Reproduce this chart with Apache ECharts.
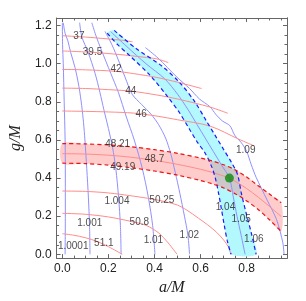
<!DOCTYPE html>
<html><head><meta charset="utf-8">
<script src="https://cdn.jsdelivr.net/npm/echarts@6/dist/echarts.min.js"></script>
<style>html,body{margin:0;padding:0;background:#fff}#c{width:306px;height:301px}</style>
</head><body><div id="c"></div>
<script>
// ---- tick values ----
const xMajor = [0, 0.2, 0.4, 0.6, 0.8];
const xMinor = [0.05,0.1,0.15,0.25,0.3,0.35,0.45,0.5,0.55,0.65,0.7,0.75,0.85,0.9,0.95];
const yMajor = [0, 0.2, 0.4, 0.6, 0.8, 1.0, 1.2];
const yMinor = [0.05,0.1,0.15,0.25,0.3,0.35,0.45,0.5,0.55,0.65,0.7,0.75,0.85,0.9,0.95,1.05,1.1,1.15];

// ---- blue contours [a, g] ----
const b10001 = [[0.0,1.215],[0.001,1.1],[0.004,1.0],[0.008,0.8],[0.012,0.6],[0.013,0.4],[0.013,0.2],[0.012,0.0]];
const b1001 = [[0.004,1.215],[0.012,1.16],[0.024,1.12],[0.036,1.06],[0.055,0.98],[0.072,0.88],[0.084,0.78],[0.092,0.69],[0.098,0.6],[0.106,0.45],[0.113,0.3],[0.118,0.15],[0.12,0.0]];
const b1004 = [[0.075,1.215],[0.085,1.14],[0.112,1.06],[0.142,0.95],[0.163,0.85],[0.18,0.76],[0.2,0.66],[0.218,0.56],[0.232,0.45],[0.244,0.3],[0.252,0.15],[0.255,0.0]];
const b101 = [[0.128,1.215],[0.145,1.15],[0.17,1.07],[0.21,0.95],[0.243,0.85],[0.278,0.72],[0.312,0.6],[0.347,0.45],[0.373,0.3],[0.392,0.15],[0.402,0.0]];
const b102 = [[0.185,1.17],[0.215,1.1],[0.243,1.02],[0.272,0.93],[0.303,0.84],[0.345,0.785],[0.385,0.735],[0.418,0.68],[0.448,0.61],[0.47,0.53],[0.49,0.43],[0.51,0.32],[0.53,0.2],[0.545,0.1],[0.552,0.0]];
const b104 = [[0.195,1.16],[0.24,1.1],[0.29,1.045],[0.38,0.94],[0.455,0.83],[0.51,0.74],[0.55,0.66],[0.585,0.59],[0.62,0.53],[0.648,0.46],[0.664,0.4],[0.678,0.32],[0.69,0.24],[0.703,0.15],[0.716,0.07],[0.732,0.0]];
const b105 = [[0.21,1.168],[0.28,1.09],[0.363,1.0],[0.445,0.92],[0.5,0.84],[0.545,0.76],[0.585,0.68],[0.62,0.61],[0.655,0.54],[0.69,0.47],[0.725,0.40],[0.742,0.3],[0.758,0.2],[0.776,0.1],[0.793,0.0]];
const b106 = [[0.225,1.175],[0.32,1.08],[0.43,0.99],[0.51,0.9],[0.575,0.8],[0.625,0.7],[0.665,0.62],[0.7,0.55],[0.735,0.48],[0.76,0.42],[0.777,0.32],[0.798,0.215],[0.82,0.112],[0.841,0.0]];
const b109 = [[0.36,1.085],[0.415,1.03],[0.497,0.93],[0.552,0.87],[0.595,0.815],[0.64,0.775],[0.667,0.733],[0.694,0.7],[0.727,0.675],[0.748,0.625],[0.777,0.585],[0.8,0.54],[0.82,0.47],[0.841,0.404],[0.889,0.284],[0.93,0.181],[0.957,0.06],[0.962,0.0]];

// ---- red contours [a, g] ----
const r37 = [[0,1.147],[0.1,1.14],[0.2,1.13],[0.26,1.123],[0.305,1.115]];
const r395 = [[0,1.067],[0.13,1.06],[0.25,1.048],[0.35,1.035],[0.411,1.025],[0.46,1.006]];
const r42 = [[0,0.97],[0.1,0.968],[0.233,0.96],[0.31,0.948],[0.41,0.928],[0.5,0.903],[0.604,0.87]];
const r44 = [[0,0.872],[0.1,0.87],[0.2,0.864],[0.3,0.856],[0.41,0.836],[0.5,0.815],[0.643,0.772],[0.718,0.74]];
const r46 = [[0,0.752],[0.1,0.75],[0.2,0.747],[0.309,0.741],[0.411,0.725],[0.5,0.706],[0.64,0.673],[0.766,0.604],[0.834,0.568]];
const r4821 = [[0,0.581],[0.1,0.579],[0.2,0.574],[0.3,0.564],[0.4,0.549],[0.5,0.53],[0.6,0.505],[0.65,0.49],[0.7,0.47],[0.75,0.443],[0.8,0.405],[0.85,0.36],[0.9,0.315],[0.95,0.27]];
const r487 = [[0,0.528],[0.1,0.526],[0.2,0.52],[0.3,0.509],[0.4,0.493],[0.5,0.472],[0.6,0.446],[0.65,0.43],[0.7,0.411],[0.725,0.40],[0.75,0.383],[0.8,0.345],[0.85,0.3],[0.9,0.25],[0.95,0.198]];
const r4919 = [[0,0.478],[0.1,0.476],[0.2,0.468],[0.3,0.454],[0.4,0.437],[0.5,0.415],[0.6,0.387],[0.65,0.37],[0.7,0.348],[0.75,0.318],[0.8,0.28],[0.85,0.235],[0.9,0.18],[0.95,0.12]];
const r5025 = [[0,0.332],[0.1,0.33],[0.2,0.322],[0.309,0.305],[0.39,0.29],[0.45,0.275],[0.5,0.258],[0.54,0.232],[0.59,0.19],[0.63,0.155],[0.67,0.115],[0.7,0.075],[0.72,0.04],[0.733,0.0]];
const r508 = [[0,0.215],[0.1,0.21],[0.2,0.196],[0.3,0.172],[0.363,0.152],[0.418,0.112],[0.459,0.06],[0.498,0.0]];
const r511 = [[0,0.108],[0.05,0.1],[0.1,0.087],[0.15,0.068],[0.2,0.04],[0.26,0.0]];

// ---- point ----
const bestFit = [[0.725, 0.40]];

// ---- contour labels ----
const labelText = ['37','39.5','42','44','46','48.21','48.7','49.19','50.25','50.8','51.1','1.0001','1.001','1.004','1.01','1.02','1.04','1.05','1.06','1.09'];
const labelA = [0.072,0.131,0.233,0.297,0.342,0.24,0.40,0.262,0.432,0.334,0.18,0.047,0.119,0.237,0.395,0.551,0.708,0.776,0.831,0.796];
const labelG = [1.143,1.06,0.972,0.853,0.735,0.575,0.497,0.456,0.285,0.167,0.058,0.043,0.162,0.28,0.074,0.10,0.249,0.182,0.079,0.544];

const FRAME = '#666';
const XMIN = -0.025, XMAX = 0.975, YMIN = -0.02, YMAX = 1.24;

function xAx(pos, vals, len, label, name) {
  return {
    type: 'value', min: XMIN, max: XMAX, position: pos,
    axisLine: { show: !!label || pos === 'top', onZero: false, lineStyle: { color: FRAME, width: 1 } },
    axisTick: { show: true, inside: true, length: len, customValues: vals, lineStyle: { color: FRAME } },
    axisLabel: label ? { show: true, customValues: vals, formatter: v => v.toFixed(1), fontFamily: 'Liberation Sans', fontSize: 12, color: '#222', margin: 5 } : { show: false },
    splitLine: { show: false },
    name: name || '', nameLocation: 'middle', nameGap: 20,
    nameTextStyle: { fontFamily: 'Liberation Serif', fontStyle: 'italic', fontSize: 16, color: '#222' }
  };
}
function yAx(pos, vals, len, label, name) {
  return {
    type: 'value', min: YMIN, max: YMAX, position: pos,
    axisLine: { show: !!label || pos === 'right', onZero: false, lineStyle: { color: FRAME, width: 1 } },
    axisTick: { show: true, inside: true, length: len, customValues: vals, lineStyle: { color: FRAME } },
    axisLabel: label ? { show: true, customValues: vals, formatter: v => v.toFixed(1), fontFamily: 'Liberation Sans', fontSize: 12, color: '#222', margin: 5 } : { show: false },
    splitLine: { show: false },
    name: name || '', nameLocation: 'middle', nameGap: 27,
    nameTextStyle: { fontFamily: 'Liberation Serif', fontStyle: 'italic', fontSize: 16, color: '#222' }
  };
}

function ln(data, color, width, type, z) {
  return { type: 'line', data: data, symbol: 'none', showSymbol: false, smooth: 0.3, silent: true,
    lineStyle: { color: color, width: width, type: type || 'solid' }, z: z || 3, clip: true };
}
function poly(pts, fill, z) {
  return { type: 'custom', data: [[0, 0]], silent: true, z: z, clip: true,
    renderItem: (params, api) => ({ type: 'polygon', shape: { points: pts.map(p => api.coord(p)), smooth: 0.3 },
      style: { fill: fill } }) };
}

const BLUE = '#9090ff', RED = '#ff8c8c', DBLUE = '#1a1aff', DRED = '#ee1111';
const cyanPoly = b104.concat(b106.slice().reverse());
const pinkPoly = r4821.concat(r4919.slice().reverse());

const series = [
  poly(cyanPoly, 'rgb(178,248,252)', 1),
  poly(pinkPoly, 'rgba(255,100,100,0.33)', 2),
];
[b10001, b1001, b1004, b101, b102, b105, b109].forEach(d => series.push(ln(d, BLUE, 1)));
[r37, r395, r42, r44, r46, r487, r5025, r508, r511].forEach(d => series.push(ln(d, RED, 1)));
[b104, b106].forEach(d => series.push(ln(d, DBLUE, 1.2, [4, 3], 4)));
[r4821, r4919].forEach(d => series.push(ln(d, DRED, 1.2, [4, 3], 4)));
series.push({ type: 'scatter', data: labelA.map((a, i) => [a, labelG[i], labelText[i]]), symbolSize: 1, silent: true,
  itemStyle: { color: 'rgba(0,0,0,0)' }, z: 6,
  label: { show: true, position: 'inside', formatter: p => p.data[2], fontFamily: 'Liberation Sans', fontSize: 10, color: '#222' } });
series.push({ type: 'scatter', data: bestFit, symbolSize: 9, itemStyle: { color: '#0b8a0b' }, z: 7, silent: true });

const chart = echarts.init(document.getElementById('c'), null, { renderer: 'canvas' });
chart.setOption({
  animation: false,
  backgroundColor: '#fff',
  grid: { left: 43, top: 18, width: 244, height: 244, containLabel: false },
  xAxis: [xAx('bottom', xMajor, 4, true, 'a/M'), xAx('bottom', xMinor, 2.5, false), xAx('top', xMajor, 4, false), xAx('top', xMinor, 2.5, false)],
  yAxis: [yAx('left', yMajor, 4, true, 'g/M'), yAx('left', yMinor, 2.5, false), yAx('right', yMajor, 4, false), yAx('right', yMinor, 2.5, false)],
  series: series
});
</script></body></html>
